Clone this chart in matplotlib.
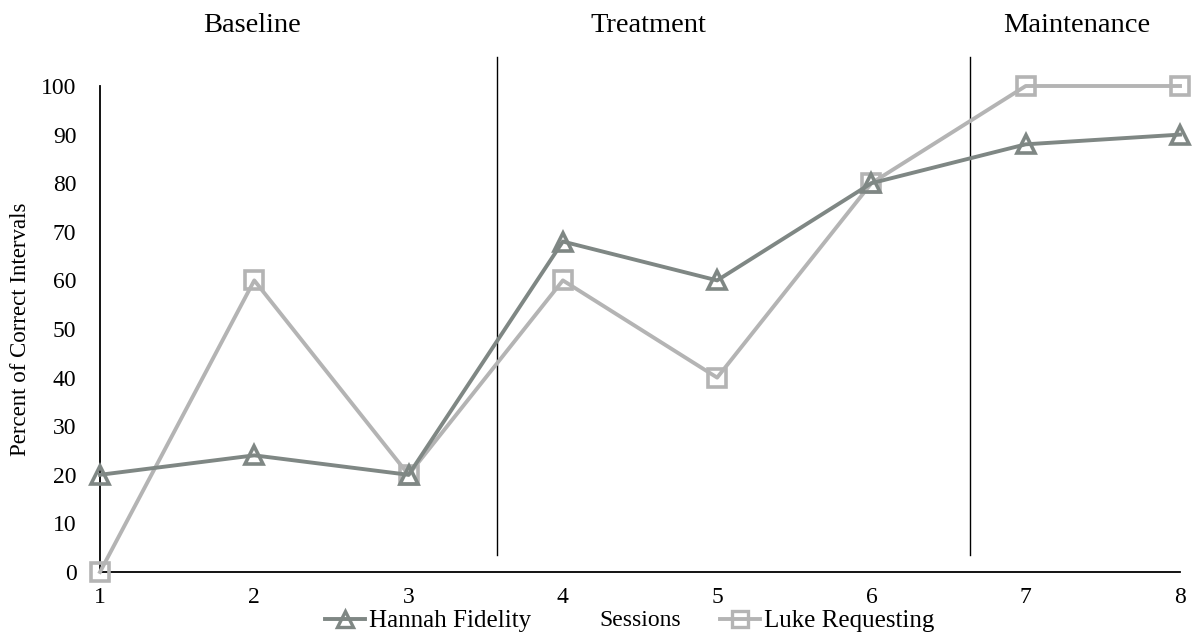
import matplotlib
matplotlib.use("Agg")
import matplotlib.pyplot as plt
from matplotlib.lines import Line2D

sessions = [1, 2, 3, 4, 5, 6, 7, 8]
hannah_fidelity = [20, 24, 20, 68, 60, 80, 88, 90]
luke_requesting = [0, 60, 20, 60, 40, 80, 100, 100]
y_ticks = [0, 10, 20, 30, 40, 50, 60, 70, 80, 90, 100]
phase_names = ["Baseline", "Treatment", "Maintenance"]
phase_changes = [3.573, 6.64]

plt.rcParams['font.family'] = ['Liberation Serif', 'DejaVu Serif']

W, H = 1195, 633
fig = plt.figure(figsize=(W / 100, H / 100), dpi=100)
ax = fig.add_axes([100 / W, 1 - 572 / H, 1080 / W, 486 / H])

c_h = '#7f8784'
c_l = '#b4b4b4'

ax.plot(sessions, luke_requesting, color=c_l, lw=2.8, marker='s', ms=13,
        mfc='none', mec=c_l, mew=2.6, clip_on=False, zorder=3)
ax.plot(sessions, hannah_fidelity, color=c_h, lw=2.8, marker='^', ms=13,
        mfc='none', mec=c_h, mew=2.6, clip_on=False, zorder=4)

ax.set_xlim(1, 8)
ax.set_ylim(0, 100)
ax.set_xticks(sessions)
ax.set_yticks(y_ticks)
ax.tick_params(axis='both', length=0, labelsize=17)
ax.tick_params(axis='x', pad=11)
ax.tick_params(axis='y', pad=17)
for s in ['top', 'right']:
    ax.spines[s].set_visible(False)
for s in ['left', 'bottom']:
    ax.spines[s].set_color('black')
    ax.spines[s].set_linewidth(1.3)

for xv in phase_changes:
    ax.plot([xv, xv], [3.5, 106], color='black', lw=1.0, clip_on=False, zorder=2)

ax.set_ylabel("Percent of Correct Intervals", fontsize=16.5)
ax.yaxis.set_label_coords(-0.064, 0.5)
ax.set_xlabel("Sessions", fontsize=17)
ax.xaxis.set_label_coords(0.5, -0.079)

phase_x = [252, 648, 1077]
for name, px in zip(phase_names, phase_x):
    fig.text(px / W, 1 - 25 / H, name, ha='center', va='center', fontsize=20.5)

h1 = Line2D([], [], color=c_h, lw=2.8, marker='^', ms=11, mfc='none', mec=c_h, mew=2.4)
h2 = Line2D([], [], color=c_l, lw=2.8, marker='s', ms=11, mfc='none', mec=c_l, mew=2.4)
leg1 = fig.legend([h1], ["Hannah Fidelity"], loc='center left',
                  bbox_to_anchor=(325 / W, 1 - 621 / H), frameon=False,
                  borderpad=0, borderaxespad=0, handlelength=1.6,
                  handletextpad=0.15, fontsize=18)
leg2 = fig.legend([h2], ["Luke Requesting"], loc='center left',
                  bbox_to_anchor=(720 / W, 1 - 621 / H), frameon=False,
                  borderpad=0, borderaxespad=0, handlelength=1.6,
                  handletextpad=0.15, fontsize=18)

fig.savefig("out.png", dpi=100)
